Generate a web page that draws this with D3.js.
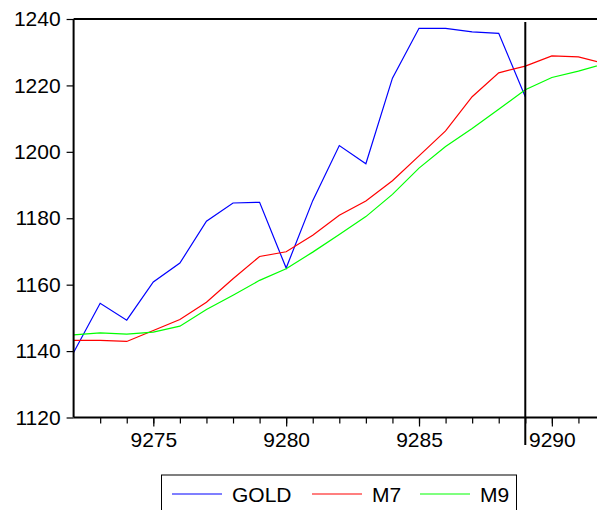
<!DOCTYPE html>
<html>
<head>
<meta charset="utf-8">
<script src="https://cdn.jsdelivr.net/npm/d3@7"></script>
<style>
  body { margin: 0; background: #fff; }
  svg { display: block; font-family: "Liberation Sans", Arial, sans-serif; }
</style>
</head>
<body>
<svg width="597" height="510"></svg>
<script>
// data
const periods = d3.range(9272, 9293);
const gold = [1139.6, 1154.4, 1149.3, 1160.8, 1166.5, 1179.1, 1184.6, 1184.8, 1165.0, 1185.3,
              1201.9, 1196.4, 1222.2, 1237.2, 1237.2, 1236.1, 1235.7, 1216.6];
const m7 = [1143.2, 1143.2, 1142.9, 1146.2, 1149.5, 1154.7, 1161.8, 1168.5, 1169.9, 1174.9,
            1180.9, 1185.2, 1191.3, 1198.8, 1206.3, 1216.6, 1223.8, 1225.8, 1228.9, 1228.6, 1226.5];
const m9 = [1144.9, 1145.5, 1145.1, 1145.7, 1147.5, 1152.5, 1156.8, 1161.3, 1164.8, 1169.8,
            1175.1, 1180.5, 1187.2, 1195.1, 1201.6, 1207.0, 1212.8, 1218.7, 1222.4, 1224.3, 1226.6];
const yTicks = [1120, 1140, 1160, 1180, 1200, 1220, 1240];
const xLabels = [9275, 9280, 9285, 9290];
const markAt = 9289;
const seriesNames = ["GOLD", "M7", "M9"];
const seriesColors = ["#0000ff", "#ff0000", "#00ff00"];

const svg = d3.select("svg");
const fontSize = 21;

const x = d3.scaleLinear().domain([9272, 9292]).range([73.6, 605]);
const y = d3.scaleLinear().domain([1120, 1240]).range([417.5, 19]);

// series lines
const line = d3.line().x((d, i) => x(periods[i])).y(d => y(d));
[gold, m7, m9].forEach((s, k) => {
    svg.append("path")
        .datum(s)
        .attr("d", line)
        .attr("fill", "none")
        .attr("stroke", seriesColors[k])
        .attr("stroke-width", 1.2);
});

// frame
svg.append("line")
    .attr("x1", x(9272)).attr("x2", 597)
    .attr("y1", y(1240)).attr("y2", y(1240))
    .attr("stroke", "#000").attr("stroke-width", 2);

// y axis
const yAxis = svg.append("g")
    .attr("transform", `translate(${x(9272)},0)`)
    .call(d3.axisLeft(y).tickValues(yTicks).tickSize(7).tickPadding(6).tickFormat(d3.format("d")));
yAxis.select(".domain").attr("stroke-width", 2).attr("d", `M0,${y(1240)}V${y(1120)}`);
yAxis.selectAll(".tick line").attr("stroke-width", 1.2);
yAxis.selectAll("text").attr("font-size", fontSize).attr("font-family", "Liberation Sans, Arial, sans-serif");

// x axis: minor ticks on each period, longer ticks with labels
const xAxis = svg.append("g")
    .attr("transform", `translate(0,${y(1120)})`)
    .call(d3.axisBottom(x).tickValues(periods.slice(1)).tickSize(6).tickFormat(""));
xAxis.select(".domain").attr("stroke-width", 2).attr("d", `M${x(9272)},0H597`);
xAxis.selectAll(".tick line").attr("stroke-width", 1.2);

const xMajor = svg.append("g")
    .attr("transform", `translate(0,${y(1120)})`)
    .call(d3.axisBottom(x).tickValues(xLabels).tickSize(9).tickPadding(6).tickFormat(d3.format("d")));
xMajor.select(".domain").remove();
xMajor.selectAll(".tick line").attr("stroke-width", 1.2);
xMajor.selectAll("text").attr("font-size", fontSize).attr("font-family", "Liberation Sans, Arial, sans-serif");

// vertical marker
svg.append("line")
    .attr("x1", x(markAt)).attr("x2", x(markAt))
    .attr("y1", 22).attr("y2", 445)
    .attr("stroke", "#000").attr("stroke-width", 2);

// legend
const legend = svg.append("g");
legend.append("rect")
    .attr("x", 161.5).attr("y", 475)
    .attr("width", 355).attr("height", 45)
    .attr("fill", "none").attr("stroke", "#000").attr("stroke-width", 1);
const legendX = [172, 312, 420];
seriesNames.forEach((n, k) => {
    legend.append("line")
        .attr("x1", legendX[k]).attr("x2", legendX[k] + 50)
        .attr("y1", 494).attr("y2", 494)
        .attr("stroke", seriesColors[k]).attr("stroke-width", 1.2);
    legend.append("text")
        .attr("x", legendX[k] + 60).attr("y", 501.5)
        .attr("font-size", fontSize)
        .text(n);
});
</script>
</body>
</html>
